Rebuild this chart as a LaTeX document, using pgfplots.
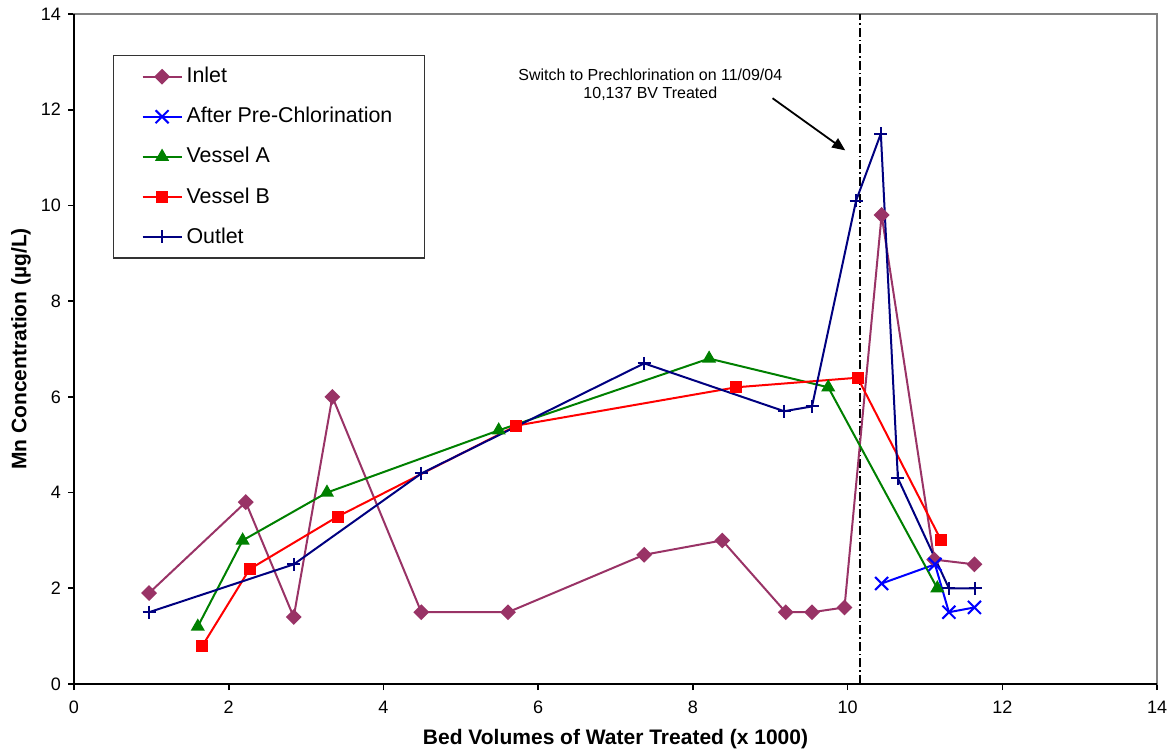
\documentclass[border=0pt]{standalone}
\usepackage{fontspec}
\setmainfont{Liberation Sans}
\usepackage{pgfplots}
\pgfplotsset{compat=1.18}
\usetikzlibrary{arrows.meta}

\definecolor{inlet}{HTML}{993366}
\definecolor{navy}{HTML}{000080}
\definecolor{exgreen}{HTML}{008000}

\begin{document}
\begin{tikzpicture}
\begin{axis}[
  scale only axis,
  width=541.5pt, height=335pt,
  xmin=0, xmax=14, ymin=0, ymax=14,
  xtick={0,2,...,14}, ytick={0,2,...,14},
  tick pos=left, tick align=outside,
  major tick length=3pt,
  tick style={black, line width=0.8pt},
  axis line style={draw=gray, line width=1pt},
  /pgf/number format/assume math mode=true,
  tick label style={font=\fontsize{9}{10}\selectfont},
  xticklabel style={yshift=-2pt},
  xlabel={Bed Volumes of Water Treated (x 1000)},
  ylabel={Mn Concentration (µg/L)},
  label style={font=\fontsize{10.5}{12}\selectfont\bfseries},
  xlabel style={at={(axis description cs:0.5,-0.082)}, anchor=center},
  ylabel style={at={(axis description cs:-0.049,0.5)}, anchor=center},
  legend cell align=left,
  legend style={at={(axis description cs:0.036,0.939)}, anchor=north west,
    draw=black!80, line width=0.6pt, fill=white,
    font=\fontsize{10.7}{12}\selectfont,
    inner xsep=14pt, inner ysep=4pt, row sep=6.75pt},
  legend image code/.code={
    \draw[mark repeat=2, mark phase=2, #1]
      plot coordinates {(0pt,0pt) (9.75pt,0pt) (19.5pt,0pt)};},
  every axis plot/.append style={line width=1pt},
  after end axis/.code={
    \draw[black, line width=1pt] (rel axis cs:0,1) -- (rel axis cs:0,0) -- (rel axis cs:1,0);
    \coordinate (bl) at (rel axis cs:0,0);
    \coordinate (tr) at (rel axis cs:1,1);
  },
]

% switch to prechlorination
\addplot[black, line width=0.75pt, dash pattern=on 4.5pt off 1.5pt on 0.8pt off 1.5pt, forget plot]
  coordinates {(10.16,0) (10.16,14)};

\addplot[inlet, mark=square*, mark size=2.3pt, mark options={rotate=45, solid}]
  coordinates {
  (0.97,1.9) (2.22,3.8) (2.84,1.4) (3.34,6.0) (4.49,1.5) (5.61,1.5) (7.37,2.7)
  (8.38,3.0) (9.20,1.5) (9.54,1.5) (9.96,1.6) (10.44,9.8) (11.12,2.6) (11.64,2.5)
};
\addlegendentry{Inlet}

\addplot[blue, mark=x, mark size=4.6pt]
  coordinates {(10.44,2.1) (11.13,2.5) (11.31,1.5) (11.64,1.6)};
\addlegendentry{After Pre-Chlorination}

\addplot[exgreen, mark=triangle*, mark size=3.1pt]
  coordinates {
  (1.60,1.2) (2.18,3.0) (3.27,4.0) (5.49,5.3) (8.21,6.8) (9.75,6.2) (11.16,2.0)
};
\addlegendentry{Vessel A}

\addplot[red, mark=square*, mark size=2.5pt]
  coordinates {
  (1.66,0.8) (2.27,2.4) (3.41,3.5) (5.72,5.4) (8.56,6.2) (10.13,6.4) (11.21,3.0)
};
\addlegendentry{Vessel B}

\addplot[navy, mark=+, mark size=3.25pt]
  coordinates {
  (0.97,1.5) (2.84,2.5) (4.49,4.4) (7.37,6.7) (9.18,5.7) (9.54,5.8)
  (10.11,10.1) (10.43,11.5) (10.65,4.3) (11.31,2.0) (11.65,2.0)
};
\addlegendentry{Outlet}

\node[align=center, font=\fontsize{8}{9}\selectfont] at (axis cs:7.45,12.53)
  {Switch to Prechlorination on 11/09/04\\10,137 BV Treated};
\draw[-{Triangle[length=6.5pt,width=5.5pt]}, line width=0.9pt]
  (axis cs:9.03,12.24) -- (axis cs:9.97,11.15);
\end{axis}
\pgfresetboundingbox
\path ([shift={(-37pt,-33.5pt)}]bl) rectangle ([shift={(6pt,7pt)}]tr);
\end{tikzpicture}
\end{document}
